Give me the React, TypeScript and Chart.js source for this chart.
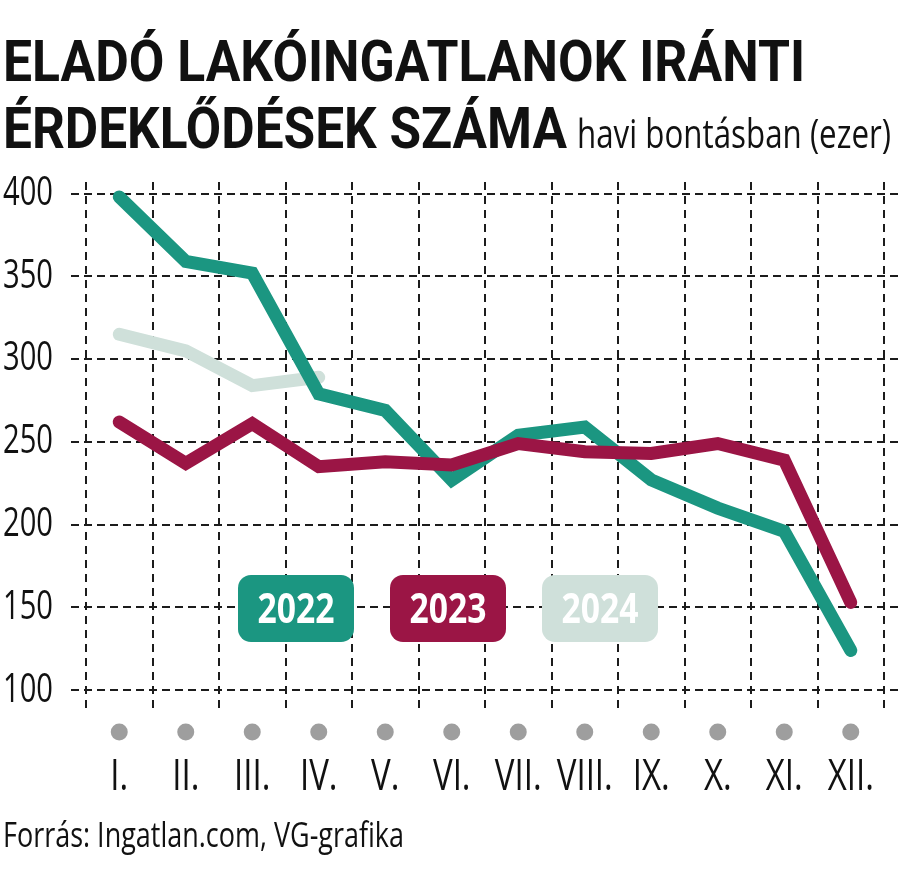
import React, { useEffect, useRef, useMemo } from 'react';
import { Chart, registerables } from 'chart.js';
Chart.register(...registerables);

// ---- data ----
const months = ['I.', 'II.', 'III.', 'IV.', 'V.', 'VI.', 'VII.', 'VIII.', 'IX.', 'X.', 'XI.', 'XII.'];
const yTickValues = [100, 150, 200, 250, 300, 350, 400];
const values2022 = [398, 359, 352, 279, 269, 227, 254, 259, 227, 210, 196, 124];
const values2023 = [262, 237, 261, 235, 238, 236, 249, 244, 243, 249, 239, 153];
const values2024 = [315, 305, 284, 289, null, null, null, null, null, null, null, null];
const seriesNames = ['2022', '2023', '2024'];
const seriesColors = ['#1b9681', '#9b1545', '#cfe0da'];

const TITLE_1 = 'ELADÓ LAKÓINGATLANOK IRÁNTI';
const TITLE_2 = 'ÉRDEKLŐDÉSEK SZÁMA';
const SUBTITLE = 'havi bontásban (ezer)';
const SOURCE = 'Forrás: Ingatlan.com, VG-grafika';

let measureCtx: CanvasRenderingContext2D | null = null;
function mctx() {
  if (!measureCtx) measureCtx = document.createElement('canvas').getContext('2d');
  return measureCtx!;
}
function fontStr(weight: string, size: number, family: string) {
  return `${weight} ${size}px "${family}", sans-serif`;
}
function textW(text: string, weight: string, size: number, family: string) {
  const c = mctx();
  c.font = fontStr(weight, size, family);
  return c.measureText(text).width;
}
function pickFont(cands: string[], weight: string) {
  const c = mctx();
  const sample = 'XII. 400 Forrás wmlij ÉRDEK';
  for (const f of cands) {
    c.font = `${weight} 40px "${f}", monospace`;
    const a = c.measureText(sample).width;
    c.font = `${weight} 40px "${f}", serif`;
    const b = c.measureText(sample).width;
    if (Math.abs(a - b) < 0.01) return f;
  }
  return 'DejaVu Sans';
}

function ScaledText(props: { text: string; family: string; weight: string; size: number; left: number; baseline: number; width: number }) {
  const { text, family, weight, size, left, baseline, width } = props;
  const c = mctx();
  c.font = fontStr(weight, size, family);
  const m = c.measureText(text);
  const A = (m as any).fontBoundingBoxAscent ?? size * 0.9;
  const D = (m as any).fontBoundingBoxDescent ?? size * 0.25;
  const sx = width / m.width;
  const top = baseline - ((size - (A + D)) / 2 + A);
  return (
    <div
      style={{
        position: 'absolute',
        left,
        top,
        lineHeight: `${size}px`,
        height: size,
        whiteSpace: 'nowrap',
        fontFamily: `"${family}", sans-serif`,
        fontWeight: weight as any,
        fontSize: size,
        color: '#111',
        transform: `scaleX(${sx})`,
        transformOrigin: 'left top',
      }}
    >
      {text}
    </div>
  );
}

export default function App() {
  const canvasRef = useRef<HTMLCanvasElement | null>(null);
  const fonts = useMemo(
    () => ({
      reg: pickFont(['Open Sans', 'Noto Sans', 'DejaVu Sans Condensed'], '400'),
      title: pickFont(['Roboto', 'DejaVu Sans Condensed', 'Liberation Sans'], 'bold'),
      legend: pickFont(['Open Sans', 'Noto Sans', 'DejaVu Sans Condensed'], 'bold'),
    }),
    []
  );

  useEffect(() => {
    document.body.style.margin = '0';
    const nf = fonts.reg;
    const lf = fonts.legend;
    const yTickSize = 40;
    const xTickSize = 44;
    const yScaleX = 50 / textW('400', '400', yTickSize, nf);
    const xScaleX = 56 / textW('VIII.', '400', xTickSize, nf);
    const condenseBySize: Record<string, number> = {
      [String(yTickSize)]: yScaleX,
      [String(xTickSize)]: xScaleX,
    };

    // Condense the axis tick text horizontally while the scales draw.
    let origFill: any = null;
    const condensePlugin = {
      id: 'condenseTicks',
      beforeDraw(chart: any) {
        const ctx = chart.ctx;
        origFill = ctx.fillText;
        ctx.fillText = function (text: string, x: number, y: number, maxWidth?: number) {
          const mm = /(\d+(?:\.\d+)?)px/.exec(ctx.font);
          const k = mm ? condenseBySize[String(Number(mm[1]))] : undefined;
          if (!k) {
            return maxWidth === undefined ? origFill.call(ctx, text, x, y) : origFill.call(ctx, text, x, y, maxWidth);
          }
          ctx.save();
          ctx.translate(x, y);
          ctx.scale(k, 1);
          origFill.call(ctx, text, 0, 0);
          ctx.restore();
        };
      },
      beforeDatasetsDraw(chart: any) {
        if (origFill) {
          chart.ctx.fillText = origFill;
          origFill = null;
        }
      },
      afterDraw(chart: any) {
        if (origFill) {
          chart.ctx.fillText = origFill;
          origFill = null;
        }
      },
    };

    const gridPlugin = {
      id: 'dashGrid',
      beforeDatasetsDraw(chart: any) {
        const { ctx, chartArea, scales } = chart;
        const x = scales.x, y = scales.y;
        ctx.save();
        ctx.strokeStyle = '#1c1c1c';
        ctx.lineWidth = 2;
        ctx.setLineDash([8, 5]);
        yTickValues.forEach((v) => {
          const py = Math.round(y.getPixelForValue(v));
          ctx.beginPath();
          ctx.moveTo(chartArea.left - 15, py);
          ctx.lineTo(chart.width, py);
          ctx.stroke();
        });
        const step = x.getPixelForValue(1) - x.getPixelForValue(0);
        ctx.setLineDash([8, 6]);
        for (let i = 0; i <= months.length; i++) {
          const px = Math.round(x.getPixelForValue(0) - step / 2 + i * step);
          ctx.beginPath();
          ctx.moveTo(px, chartArea.top);
          ctx.lineTo(px, chartArea.bottom);
          ctx.stroke();
        }
        ctx.restore();
      },
    };

    const dotsPlugin = {
      id: 'monthDots',
      afterDraw(chart: any) {
        const { ctx, chartArea, scales } = chart;
        ctx.save();
        ctx.fillStyle = '#9e9e9e';
        months.forEach((_, i) => {
          const px = scales.x.getPixelForValue(i);
          ctx.beginPath();
          ctx.arc(px, chartArea.bottom + 22, 8.5, 0, Math.PI * 2);
          ctx.fill();
        });
        ctx.restore();
      },
    };

    const legendPlugin = {
      id: 'boxLegend',
      afterDatasetsDraw(chart: any) {
        const { ctx } = chart;
        const size = 42;
        chart.data.datasets.forEach((ds: any, i: number) => {
          const bx = 238 + i * 152, by = 575, bw = 116, bh = 67;
          ctx.save();
          ctx.fillStyle = ds.borderColor;
          ctx.beginPath();
          (ctx as any).roundRect(bx, by, bw, bh, 13);
          ctx.fill();
          ctx.fillStyle = '#ffffff';
          ctx.font = fontStr('bold', size, lf);
          const w = ctx.measureText(ds.label).width;
          const sx = 77 / w;
          ctx.translate(bx + bw / 2, 623);
          ctx.scale(sx, 1);
          ctx.textAlign = 'center';
          ctx.textBaseline = 'alphabetic';
          ctx.fillText(ds.label, 0, 0);
          ctx.restore();
        });
      },
    };

    const mk = (label: string, data: any[], color: string, order: number) => ({
      label,
      data,
      borderColor: color,
      backgroundColor: color,
      borderWidth: 13,
      pointRadius: 0,
      pointHoverRadius: 0,
      tension: 0,
      fill: false,
      spanGaps: false,
      borderCapStyle: 'round' as const,
      borderJoinStyle: 'miter' as const,
      order,
    });

    const chart = new Chart(canvasRef.current!, {
      type: 'line',
      data: {
        labels: months,
        datasets: [
          mk(seriesNames[0], values2022, seriesColors[0], 1),
          mk(seriesNames[1], values2023, seriesColors[1], 0),
          mk(seriesNames[2], values2024, seriesColors[2], 2),
        ],
      },
      options: {
        animation: false,
        responsive: false,
        devicePixelRatio: 1,
        layout: { padding: { top: 182, right: 16, left: 0, bottom: 0 } },
        plugins: { legend: { display: false }, tooltip: { enabled: false } },
        scales: {
          x: {
            type: 'category',
            offset: true,
            grid: { display: false, drawTicks: false },
            border: { display: false },
            ticks: {
              color: '#111',
              padding: 41,
              maxRotation: 0,
              autoSkip: false,
              font: { family: nf, size: xTickSize, lineHeight: 1.2 },
            },
            afterFit: (s: any) => {
              s.height = 167;
              s.paddingLeft = 0;
              s.paddingRight = 0;
            },
          },
          y: {
            min: 88,
            max: 407,
            grid: { display: false, drawTicks: false },
            border: { display: false },
            afterBuildTicks: (s: any) => { s.ticks = yTickValues.map((v) => ({ value: v })); },
            ticks: {
              color: '#111',
              padding: 33,
              font: { family: nf, size: yTickSize, lineHeight: 1.2 },
            },
            afterFit: (s: any) => {
              s.width = 86;
              s.paddingTop = 0;
              s.paddingBottom = 0;
            },
          },
        },
      },
      plugins: [condensePlugin, gridPlugin, legendPlugin, dotsPlugin],
    });
    return () => chart.destroy();
  }, [fonts]);

  return (
    <div style={{ position: 'relative', width: 900, height: 877, background: '#fff', overflow: 'hidden' }}>
      <canvas ref={canvasRef} width={900} height={877} style={{ position: 'absolute', left: 0, top: 0 }} />
      <ScaledText text={TITLE_1} family={fonts.title} weight="bold" size={58} left={3} baseline={81} width={802} />
      <ScaledText text={TITLE_2} family={fonts.title} weight="bold" size={58} left={3} baseline={148} width={564} />
      <ScaledText text={SUBTITLE} family={fonts.reg} weight="400" size={41} left={577} baseline={148} width={314} />
      <ScaledText text={SOURCE} family={fonts.reg} weight="400" size={35} left={3} baseline={847} width={401} />
    </div>
  );
}
